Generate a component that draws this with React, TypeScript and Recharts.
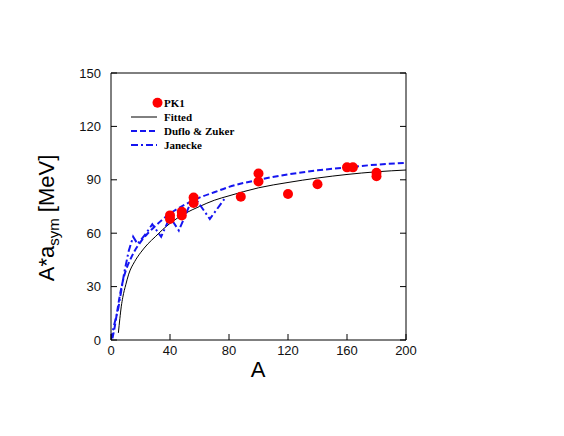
import React from 'react';
import { ComposedChart, Line, Scatter, XAxis, YAxis } from 'recharts';

// PK1 calculated points
const pk1A = [40, 40, 48, 48, 56, 56, 88, 100, 100, 120, 140, 160, 164, 180, 180];
const pk1V = [68, 70, 70, 72, 77, 80, 80.5, 89, 93.5, 82, 87.5, 97, 97, 92, 94];

// Fitted curve
const fitA = [5, 6, 7, 8, 10, 12, 16, 20, 25, 30, 35, 40, 50, 60, 70, 80, 100, 120, 140, 160, 180, 200];
const fitV = [4, 12, 19, 24, 31, 37, 44, 49, 54, 58, 62, 65.5, 71, 75, 78.5, 81, 85.5, 88.5, 91, 93, 94.5, 95.5];

// Duflo & Zuker
const dzA = [1, 2, 4, 6, 8, 10, 13, 16, 20, 25, 30, 40, 50, 60, 70, 80, 100, 120, 140, 160, 180, 200];
const dzV = [1, 5, 15, 25, 33, 39, 45, 50, 55, 60, 64, 71, 76, 80, 83, 86, 90, 93, 95.3, 97, 98.5, 99.5];

// Janecke
const janA = [0, 2, 5, 9, 12, 15, 18, 23, 28, 34, 40, 46, 56, 67, 78];
const janV = [0, 8, 18, 38, 50, 58, 54, 59, 65, 58, 69, 61.5, 81, 68, 80.5];

const xTicks = [0, 40, 80, 120, 160, 200];
const yTicks = [0, 30, 60, 90, 120, 150];

const zip = (a: number[], v: number[]) => a.map((x, i) => ({ A: x, v: v[i] }));
const pk1Data = zip(pk1A, pk1V);
const fitData = zip(fitA, fitV);
const dzData = zip(dzA, dzV);
const janData = zip(janA, janV);

const BLUE = '#1515f0';
const tickFont = { fontSize: 13, fill: '#111', fontFamily: 'Liberation Sans, Arial, sans-serif' };
const legendFont = { fontSize: 11, fontWeight: 700, fontFamily: 'Liberation Serif, Times New Roman, serif', fill: '#000' };

const Dot = (p: any) => <circle cx={p.cx} cy={p.cy} r={5} fill="#ff0000" />;
const NoTick = () => <g />;

export default function App() {
  return (
    <div style={{ position: 'absolute', left: 0, top: 0, width: 564, height: 436, background: '#fff' }}>
      <ComposedChart
        width={564}
        height={436}
        margin={{ top: 72, right: 157, bottom: 66, left: 51 }}
      >
        <XAxis
          dataKey="A"
          type="number"
          domain={[0, 200]}
          ticks={xTicks}
          allowDataOverflow
          height={30}
          tickSize={-6}
          tickMargin={12}
          tick={tickFont}
          stroke="#000"
          axisLine={{ stroke: '#000', strokeWidth: 1 }}
          tickLine={{ stroke: '#000' }}
        />
        <XAxis
          xAxisId="top"
          orientation="top"
          type="number"
          domain={[0, 200]}
          ticks={xTicks}
          allowDataOverflow
          height={1}
          tickSize={-6}
          tick={NoTick}
          axisLine={{ stroke: '#000', strokeWidth: 1 }}
          tickLine={{ stroke: '#000' }}
        />
        <YAxis
          type="number"
          domain={[0, 150]}
          ticks={yTicks}
          allowDataOverflow
          width={60}
          tickSize={-6}
          tickMargin={16}
          tick={tickFont}
          axisLine={{ stroke: '#000', strokeWidth: 1 }}
          tickLine={{ stroke: '#000' }}
        />
        <YAxis
          yAxisId="right"
          orientation="right"
          type="number"
          domain={[0, 150]}
          ticks={yTicks}
          allowDataOverflow
          width={1}
          tickSize={-6}
          tick={NoTick}
          axisLine={{ stroke: '#000', strokeWidth: 1 }}
          tickLine={{ stroke: '#000' }}
        />
        <Line data={fitData} dataKey="v" type="monotone" stroke="#000" strokeWidth={1} dot={false} isAnimationActive={false} />
        <Line data={dzData} dataKey="v" type="monotone" stroke={BLUE} strokeWidth={2} strokeDasharray="6 3" dot={false} isAnimationActive={false} />
        <Line data={janData} dataKey="v" type="linear" stroke={BLUE} strokeWidth={2} strokeDasharray="7 3 2 3" dot={false} isAnimationActive={false} />
        <Scatter data={pk1Data} dataKey="v" shape={Dot} isAnimationActive={false} />
      </ComposedChart>
      <svg width={564} height={436} style={{ position: 'absolute', left: 0, top: 0, pointerEvents: 'none' }}>
        <text x={258} y={377} textAnchor="middle" fontSize={22} fontFamily="Liberation Sans, Arial, sans-serif" fill="#000">A</text>
        <text transform="translate(54,218) rotate(-90)" textAnchor="middle" fontSize={22} fontFamily="Liberation Sans, Arial, sans-serif" fill="#000">
          A*a<tspan fontSize={15} dy={5}>sym</tspan><tspan dy={-5}> [MeV]</tspan>
        </text>
        <circle cx={157.5} cy={102.7} r={5} fill="#ff0000" />
        <text x={164} y={107} {...legendFont}>PK1</text>
        <line x1={131} x2={157} y1={117} y2={117} stroke="#000" strokeWidth={1} />
        <text x={164} y={121} {...legendFont}>Fitted</text>
        <line x1={131} x2={157} y1={131} y2={131} stroke={BLUE} strokeWidth={2} strokeDasharray="6 3" />
        <text x={164} y={135} {...legendFont}>Duflo &amp; Zuker</text>
        <line x1={131} x2={157} y1={145} y2={145} stroke={BLUE} strokeWidth={2} strokeDasharray="7 3 2 3" />
        <text x={164} y={149} {...legendFont}>Janecke</text>
      </svg>
    </div>
  );
}
